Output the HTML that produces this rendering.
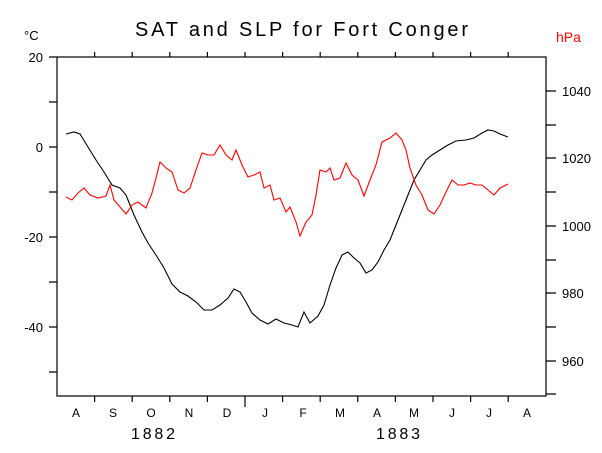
<!DOCTYPE html>
<html><head><style>body{margin:0;background:#fff}svg{display:block}text{font-family:"Liberation Sans",sans-serif}</style></head>
<body>
<svg width="602" height="453" xmlns="http://www.w3.org/2000/svg">
<rect width="602" height="453" fill="#fff"/>
<text x="135" y="36" font-size="20" textLength="333" lengthAdjust="spacing">SAT and SLP for Fort Conger</text>
<text x="24" y="40" font-size="13">°C</text>
<text x="556" y="42" font-size="14" fill="#f00">hPa</text>
<g stroke="#000" stroke-width="1.2" fill="none">
<rect x="57" y="57" width="489" height="339"/>
<path d="M57 57H49M57 102H49M57 147H49M57 192H49M57 237H49M57 282H49M57 327H49M57 372H49"/>
<path d="M546 91H556M546 125H556M546 158H556M546 192H556M546 226H556M546 260H556M546 293H556M546 327H556M546 361H556M546 394H556"/>
<path d="M94.6 396v6M132.2 396v6M169.8 396v6M207.4 396v6M245 396v11M282.6 396v6M320.2 396v6M357.8 396v6M395.4 396v6M433 396v6M470.6 396v6M508.2 396v6"/>
<path d="M94.6 57v-5M132.2 57v-5M169.8 57v-5M207.4 57v-5M245 57v-5M282.6 57v-5M320.2 57v-5M357.8 57v-5M395.4 57v-5M433 57v-5M470.6 57v-5M508.2 57v-5"/>
</g>
<g font-size="13" text-anchor="end"><text x="43" y="62">20</text><text x="43" y="152">0</text><text x="43" y="242">-20</text><text x="43" y="332">-40</text></g>
<g font-size="13"><text x="562" y="96">1040</text><text x="562" y="163">1020</text><text x="562" y="231">1000</text><text x="562" y="298">980</text><text x="562" y="366">960</text></g>
<g font-size="12" text-anchor="middle"><text x="76" y="417">A</text><text x="113" y="417">S</text><text x="151" y="417">O</text><text x="189" y="417">N</text><text x="227" y="417">D</text><text x="265" y="417">J</text><text x="303" y="417">F</text><text x="340" y="417">M</text><text x="377" y="417">A</text><text x="414" y="417">M</text><text x="452" y="417">J</text><text x="489" y="417">J</text><text x="527" y="417">A</text></g>
<g font-size="16"><text x="131" y="439" textLength="44" lengthAdjust="spacing">1882</text><text x="376" y="439" textLength="44" lengthAdjust="spacing">1883</text></g>
<polyline fill="none" stroke="#000" stroke-width="1.1" points="66,134 74,132 80,134 88,147 96,160 104,172 112,185 120,188 126,195 134,215 142,232 148,243 156,255 164,268 172,284 180,292 188,296 196,302 204,310 212,310 220,305 228,298 234,289 240,292 246,302 252,313 260,320 268,324 276,319 284,323 292,325 298,327 304,312 310,323 318,316 324,305 330,285 336,268 342,255 348,252 354,258 360,263 366,273 372,270 378,262 384,250 390,240 396,225 402,210 408,195 414,180 420,170 426,160 432,155 440,150 448,145 456,141 466,140 474,138 482,133 488,130 494,131 500,134 508,137"/>
<polyline fill="none" stroke="#f00" stroke-width="1.1" points="66,197 72,200 78,193 84,188 90,195 98,198 106,196 110,185 114,200 120,207 126,214 132,205 138,202 146,208 152,193 156,178 160,162 166,168 172,172 178,190 184,193 190,188 196,170 202,153 208,155 214,155 220,145 226,155 232,160 236,150 242,165 248,177 254,175 260,172 264,188 270,185 274,200 280,198 286,212 290,207 296,222 300,236 306,222 312,215 316,195 320,170 326,172 330,168 334,180 340,178 346,163 352,175 358,180 364,196 370,180 376,165 382,142 390,138 396,133 402,140 406,150 410,168 416,185 422,195 428,210 434,214 440,205 446,192 452,180 458,185 464,185 470,183 476,185 482,185 488,190 494,195 500,188 508,184"/>
</svg>
</body></html>
